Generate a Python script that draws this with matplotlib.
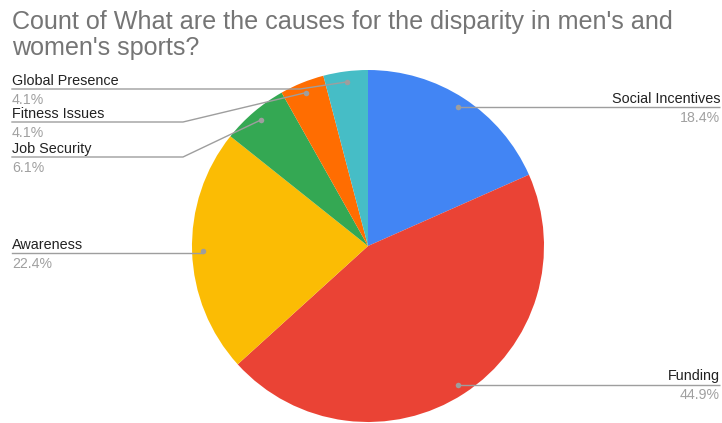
import numpy as np
import matplotlib
matplotlib.use('Agg')
import matplotlib.pyplot as plt

# data
categories = ['Social Incentives', 'Funding', 'Awareness', 'Job Security',
              'Fitness Issues', 'Global Presence']
counts = [9, 22, 11, 3, 2, 2]
colors = ['#4285F4', '#EA4335', '#FBBC04', '#34A853', '#FF6D01', '#46BDC6']

W, H = 722, 423
CX, CY, R = 368, 246, 176

# label layout (pixel rows from top): line y, side, elbow x
label_line_y = {'Awareness': 253, 'Job Security': 157, 'Fitness Issues': 122,
                'Global Presence': 89}
label_side = {'Social Incentives': 'right', 'Funding': 'right', 'Awareness': 'left',
              'Job Security': 'left', 'Fitness Issues': 'left', 'Global Presence': 'left'}
elbow_x = {'Job Security': 183, 'Fitness Issues': 183, 'Global Presence': 300}

LINE_COL = '#9e9e9e'
LABEL_COL = '#222222'
PCT_COL = '#a0a0a0'

plt.rcParams['font.family'] = ['Liberation Sans', 'DejaVu Sans']

fig = plt.figure(figsize=(W / 100, H / 100), dpi=100)
ax = fig.add_axes([0, 0, 1, 1])


def fy(y):
    return H - y


wedges, _ = ax.pie(counts, colors=colors, startangle=90, counterclock=False,
                   center=(CX, fy(CY)), radius=R, wedgeprops=dict(linewidth=0))
ax.set_xlim(0, W)
ax.set_ylim(0, H)
ax.set_aspect('equal')
ax.axis('off')

total = sum(counts)
for w, cat, n in zip(wedges, categories, counts):
    mid = np.deg2rad((w.theta1 + w.theta2) / 2)
    dx = CX + 0.94 * R * np.cos(mid)
    dy = fy(CY) + 0.94 * R * np.sin(mid)
    pct = f'{100 * n / total:.1f}%'
    if label_side[cat] == 'right':
        ly = dy
        ax.plot([dx, 720], [ly, ly], color=LINE_COL, lw=1, solid_capstyle='butt')
        tx, ha = 720, 'right'
    else:
        ly = fy(label_line_y[cat])
        ex = elbow_x.get(cat, dx)
        ax.plot([12, ex, dx], [ly, ly, dy], color=LINE_COL, lw=1)
        tx, ha = 12, 'left'
    ax.plot(dx, dy, 'o', ms=4, color=LINE_COL, mec='none')
    ax.text(tx, ly + 4.5, cat, ha=ha, va='baseline', fontsize=10.4, color=LABEL_COL)
    ax.text(tx, ly - 3.5, pct, ha=ha, va='top', fontsize=10.2, color=PCT_COL)

ax.text(12, fy(10), "Count of What are the causes for the disparity in men's and\nwomen's sports?",
        ha='left', va='top', fontsize=18.1, color='#757575', linespacing=1.1)

fig.savefig('out.png', dpi=100, facecolor='white')
